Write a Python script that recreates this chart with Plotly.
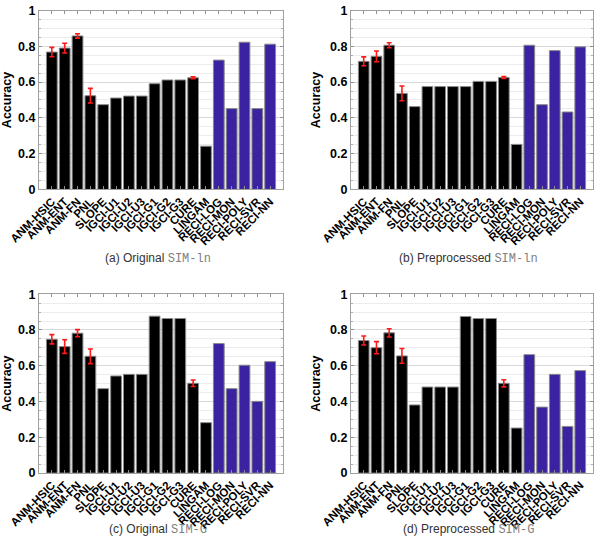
import plotly.graph_objects as go

methods = ["ANM-HSIC", "ANM-ENT", "ANM-FN", "PNL", "SLOPE", "IGCI-U1", "IGCI-U2",
           "IGCI-U3", "IGCI-G1", "IGCI-G2", "IGCI-G3", "CURE", "LINGAM",
           "RECI-LOG", "RECI-MON", "RECI-POLY", "RECI-SVR", "RECI-NN"]

acc_orig_ln = [0.768, 0.79, 0.858, 0.524, 0.474, 0.511, 0.522, 0.522, 0.591, 0.612,
               0.612, 0.624, 0.242, 0.723, 0.452, 0.823, 0.452, 0.812]
acc_prep_ln = [0.716, 0.744, 0.806, 0.537, 0.463, 0.575, 0.575, 0.575, 0.575, 0.604,
               0.604, 0.626, 0.252, 0.806, 0.474, 0.776, 0.433, 0.797]
acc_orig_g = [0.748, 0.707, 0.782, 0.653, 0.472, 0.543, 0.552, 0.552, 0.877, 0.864,
              0.864, 0.502, 0.282, 0.724, 0.472, 0.603, 0.401, 0.623]
acc_prep_g = [0.741, 0.701, 0.784, 0.655, 0.381, 0.481, 0.481, 0.481, 0.875, 0.864,
              0.864, 0.502, 0.252, 0.662, 0.369, 0.552, 0.261, 0.573]

# error bars (only for methods with random restarts)
err_methods = ["ANM-HSIC", "ANM-ENT", "ANM-FN", "PNL", "CURE"]
err_orig_ln = [0.026, 0.027, 0.012, 0.041, 0.005]
err_prep_ln = [0.025, 0.030, 0.014, 0.041, 0.005]
err_orig_g = [0.026, 0.038, 0.020, 0.041, 0.018]
err_prep_g = [0.025, 0.034, 0.023, 0.041, 0.020]

captions = [("(a) Original ", "SIM-ln"), ("(b) Preprocessed ", "SIM-ln"),
            ("(c) Original ", "SIM-G"), ("(d) Preprocessed ", "SIM-G")]

panels = [(acc_orig_ln, err_orig_ln), (acc_prep_ln, err_prep_ln),
          (acc_orig_g, err_orig_g), (acc_prep_g, err_prep_g)]

BLACK = "#000000"
BLUE = "#3a22a0"
colors = [BLUE if m.startswith("RECI") else BLACK for m in methods]

xdoms = [[0.065, 0.4717], [0.585, 0.9883], [0.065, 0.4717], [0.585, 0.9883]]
ydoms = [[0.658, 0.981], [0.658, 0.981], [0.146, 0.469], [0.146, 0.469]]
cap_y = [1 - 258 / 554, 1 - 258 / 554, 1 - 529 / 554, 1 - 529 / 554]

fig = go.Figure()
layout = dict(width=600, height=554, margin=dict(l=0, r=0, t=0, b=0),
              paper_bgcolor="white", plot_bgcolor="white", showlegend=False,
              bargap=0.16, font=dict(family="Liberation Sans, Arial, sans-serif"))
annotations = []

for i, (vals, errs) in enumerate(panels):
    n = "" if i == 0 else str(i + 1)
    xa, ya = "x" + n, "y" + n
    fig.add_trace(go.Bar(x=methods, y=vals, xaxis=xa, yaxis=ya,
                         marker=dict(color=colors, line=dict(color="#8a8a8a", width=1))))
    ev = [vals[methods.index(m)] for m in err_methods]
    fig.add_trace(go.Scatter(x=err_methods, y=ev, xaxis=xa, yaxis=ya, mode="markers",
                             marker=dict(size=1, opacity=0),
                             error_y=dict(type="data", array=errs, color="#ff1a1a",
                                          thickness=1.6, width=2.5),
                             hoverinfo="skip"))
    layout["xaxis" + n] = dict(domain=xdoms[i], anchor=ya, type="category",
                               range=[-1, 18], tickangle=-45,
                               tickmode="array", tickvals=methods, ticktext=methods,
                               tickfont=dict(size=11.5, color="black",
                                             family="Liberation Sans, Arial, sans-serif",
                                             weight="bold"),
                               showline=True, linecolor="#a0a0a0", linewidth=1,
                               mirror="allticks", ticks="inside", ticklen=3,
                               tickcolor="#909090", showgrid=False, automargin=False,
                               zeroline=False)
    layout["yaxis" + n] = dict(domain=ydoms[i], anchor=xa, range=[0, 1],
                               tickvals=[0, 0.2, 0.4, 0.6, 0.8, 1],
                               ticktext=["0", "0.2", "0.4", "0.6", "0.8", "1"],
                               tickfont=dict(size=12.5, color="black", weight="bold"),
                               showline=True, linecolor="#a0a0a0", linewidth=1,
                               mirror="allticks", ticks="inside", ticklen=3,
                               tickcolor="#909090",
                               showgrid=True, gridcolor="#d8d8d8", gridwidth=1,
                               minor=dict(dtick=0.05, showgrid=True, gridcolor="#ececec",
                                          ticks="inside", ticklen=2, tickcolor="#b0b0b0"),
                               zeroline=False, automargin=False,
                               title=dict(text="Accuracy", standoff=6,
                                          font=dict(size=12.5, color="black", weight="bold")))
    cx = (xdoms[i][0] + xdoms[i][1]) / 2 - 0.005
    pre, mono = captions[i]
    annotations.append(dict(
        x=cx, y=cap_y[i], xref="paper", yref="paper", showarrow=False,
        xanchor="center", yanchor="middle",
        text=pre + "<span style='font-family:Liberation Mono, Courier New, monospace;fill:#808080'>"
             + mono + "</span>",
        font=dict(size=12, color="#333333", family="Liberation Sans, Arial, sans-serif")))

layout["annotations"] = annotations
fig.update_layout(**layout)
fig.write_html("out.html")
